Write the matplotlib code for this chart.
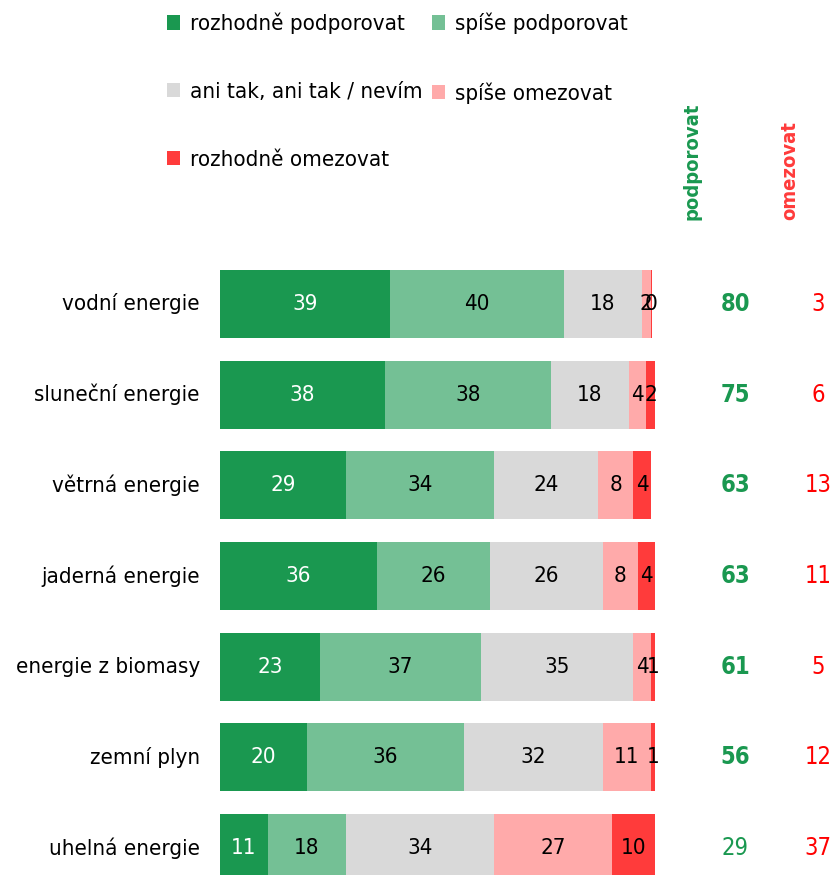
import matplotlib
matplotlib.use("Agg")
import matplotlib.pyplot as plt
from matplotlib.patches import Patch
from matplotlib.transforms import blended_transform_factory
from matplotlib import font_manager

fams = [f.name for f in font_manager.fontManager.ttflist]
main_font = 'Liberation Sans Narrow' if 'Liberation Sans Narrow' in fams else 'DejaVu Sans'
plt.rcParams['font.family'] = [main_font, 'DejaVu Sans']
plt.rcParams['font.stretch'] = 'condensed'

categories = ["vodní energie", "sluneční energie", "větrná energie", "jaderná energie",
              "energie z biomasy", "zemní plyn", "uhelná energie"]
series_names = ["rozhodně podporovat", "spíše podporovat", "ani tak, ani tak / nevím",
                "spíše omezovat", "rozhodně omezovat"]
rozhodne_podp = [39, 38, 29, 36, 23, 20, 11]
spise_podp = [40, 38, 34, 26, 37, 36, 18]
ani_tak = [18, 18, 24, 26, 35, 32, 34]
spise_omez = [2, 4, 8, 8, 4, 11, 27]
rozhodne_omez = [0.4, 2, 4, 4, 1, 1, 10]
podporovat = [80, 75, 63, 63, 61, 56, 29]
omezovat = [3, 6, 13, 11, 5, 12, 37]
podporovat_bold = [True, True, True, True, True, True, False]

colors = ["#1a9850", "#74c095", "#d9d9d9", "#ffaaaa", "#ff3b3b"]
text_colors = ["white", "black", "black", "black", "black"]
series = [rozhodne_podp, spise_podp, ani_tak, spise_omez, rozhodne_omez]

W, H = 833, 875
fig = plt.figure(figsize=(W / 100, H / 100), dpi=100)
ax = fig.add_axes([220 / W, 0, (W - 220) / W, 616.35 / H])
ax.set_xlim(0, (W - 220) / 4.35)
ax.set_ylim(6.3, -0.5)
ax.axis('off')

fs = 16
ypos = list(range(len(categories)))
left = [0] * len(categories)
for vals, col, tc, name in zip(series, colors, text_colors, series_names):
    bars = ax.barh(ypos, vals, left=left, height=0.75, color=col, label=name)
    for b, v in zip(bars, vals):
        ax.text(b.get_x() + b.get_width() / 2, b.get_y() + b.get_height() / 2,
                f"{v:.0f}", ha='center', va='center', color=tc, fontsize=fs)
    left = [l + v for l, v in zip(left, vals)]

trans = blended_transform_factory(fig.transFigure, ax.transData)
for i, cat in enumerate(categories):
    ax.text(200 / W, i, cat, transform=trans, ha='right', va='center', fontsize=fs)
    ax.text(735 / W, i, str(podporovat[i]), transform=trans, ha='center', va='center',
            fontsize=fs + 1, color="#1a9850",
            fontweight='bold' if podporovat_bold[i] else 'normal')
    ax.text(818 / W, i, str(omezovat[i]), transform=trans, ha='center', va='center',
            fontsize=fs + 1, color="#ff0000")

fig.text(692 / W, 1 - 220 / H, "podporovat", rotation=90, ha='center', va='bottom',
         color="#1a9850", fontweight='bold', fontsize=14.5)
fig.text(790 / W, 1 - 220 / H, "omezovat", rotation=90, ha='center', va='bottom',
         color="#ff3b3b", fontweight='bold', fontsize=14.5)

handles = [Patch(facecolor=c) for c in colors]
order = [0, 2, 4, 1, 3]
fig.legend([handles[i] for i in order], [series_names[i] for i in order],
           ncol=2, loc='upper left', bbox_to_anchor=(158 / W, 1 - 4 / H),
           frameon=False, fontsize=fs, handlelength=0.6, handleheight=0.6,
           handletextpad=0.45, columnspacing=0.4, labelspacing=2.15, borderaxespad=0)

fig.savefig("out.png", dpi=100)
